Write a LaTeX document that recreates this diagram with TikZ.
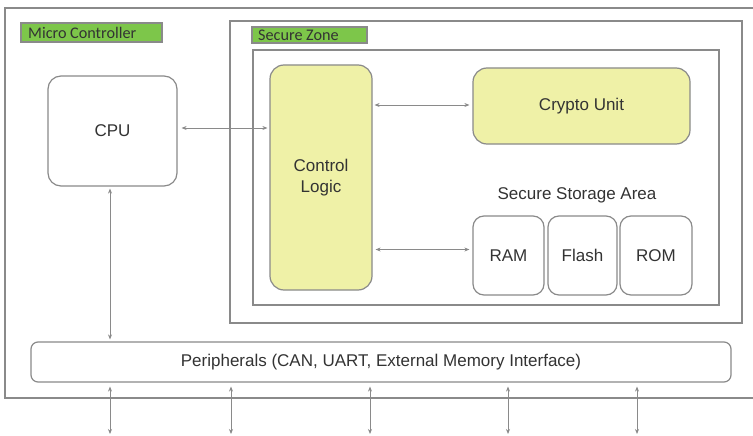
\documentclass[tikz,border=0pt]{standalone}
\usepackage{fontspec}
\setmainfont{Liberation Sans}
\newfontfamily\labelfont{Carlito}
\usetikzlibrary{arrows.meta}
\definecolor{lineg}{HTML}{8A8A8A}
\definecolor{txt}{HTML}{333333}
\definecolor{lgreen}{HTML}{7DC64A}
\definecolor{lyellow}{HTML}{EFF1A7}
\tikzset{
  x=1pt, y=-1pt,
  frame/.style={draw=lineg, line width=1.3pt},
  rbox/.style={draw=lineg, line width=1.2pt, rounded corners=#1, fill=white, text=txt, font=\fontsize{17}{20}\selectfont, inner sep=0pt, align=center},
  rbox/.default=10pt,
  ybox/.style={rbox=#1, fill=lyellow},
  ybox/.default=12pt,
  tag/.style={draw=lineg, line width=1.2pt, fill=lgreen, inner sep=0pt},
  tagtext/.style={font=\labelfont\fontsize{16.2}{18}\selectfont, text=black!80, anchor=west, inner sep=0pt},
  arr/.style={draw=lineg, line width=0.9pt, {Stealth[length=5pt,width=4pt]}-{Stealth[length=5pt,width=4pt]}},
}
\begin{document}
\begin{tikzpicture}
\useasboundingbox (0,0) rectangle (753,436);
\fill[white] (0,0) rectangle (753,436);
% Micro controller outer frame (open on the right)
\draw[frame] (753,8) -- (5,8) -- (5,398) -- (753,398);
\node[tag, minimum width=141pt, minimum height=19pt] (mctag) at (91.5,32.5) {};
\node[tagtext] (mctext) at (28,32.5) {Micro Controller};
% Secure zone frames
\node[frame, minimum width=512pt, minimum height=302pt, inner sep=0pt] (sz) at (486,172) {};
\node[tag, minimum width=115pt, minimum height=16pt] (sztag) at (309.5,35) {};
\node[tagtext] (sztext) at (258,35.5) {Secure Zone};
\node[frame, minimum width=466pt, minimum height=255pt, inner sep=0pt] (szin) at (486,177.5) {};
% Components
\node[rbox=13pt, minimum width=129pt, minimum height=110pt] (cpu) at (112.5,131) {CPU};
\node[ybox=14pt, minimum width=102pt, minimum height=225pt] (ctrl) at (321,177.5) {Control\\[1pt]Logic};
\node[ybox=14pt, minimum width=217pt, minimum height=76pt] (crypto) at (581.5,106) {Crypto Unit};
\node[text=txt, font=\fontsize{17}{20}\selectfont, inner sep=0pt] (ssa) at (577,195) {Secure Storage Area};
\node[rbox=11pt, minimum width=71pt, minimum height=79pt] (ram) at (508.5,255.5) {RAM};
\node[rbox=11pt, minimum width=69pt, minimum height=79pt] (flash) at (582.5,255.5) {Flash};
\node[rbox=11pt, minimum width=72pt, minimum height=79pt] (rom) at (656,255.5) {ROM};
\node[rbox=7pt, minimum width=700pt, minimum height=40pt] (periph) at (381,362) {Peripherals (CAN, UART, External Memory Interface)};
% Connectors
\draw[arr] ([xshift=4pt,yshift=3pt]cpu.east) -- ([xshift=-2pt,yshift=3pt]cpu.east -| ctrl.west);
\draw[arr] ([xshift=2pt,yshift=1pt]crypto.west -| ctrl.east) -- ([xshift=-3pt,yshift=1pt]crypto.west);
\draw[arr] ([xshift=3pt,yshift=6pt]ram.west -| ctrl.east) -- ([xshift=-3pt,yshift=6pt]ram.west);
\draw[arr] ([xshift=-2.5pt,yshift=-2pt]cpu.south) -- ([xshift=-2.5pt,yshift=2pt]cpu.south |- periph.north);
\coordinate (b1) at (110,434);
\coordinate (b2) at (231,434);
\coordinate (b3) at (370,434);
\coordinate (b4) at (508,434);
\coordinate (b5) at (637,434);
\foreach \b in {b1,b2,b3,b4,b5}
  \draw[arr] ([yshift=-4pt]\b |- periph.south) -- (\b);
\end{tikzpicture}
\end{document}
